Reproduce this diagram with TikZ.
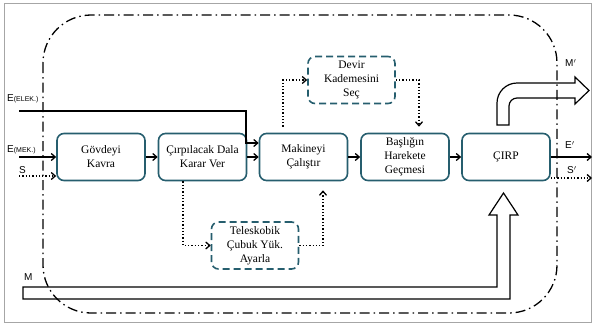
\documentclass[tikz,border=0pt]{standalone}
\usepackage{fontspec}
\setmainfont{Liberation Serif}
\newfontfamily\lblfont{Liberation Sans}
\usepackage{xcolor}
\usetikzlibrary{arrows.meta,positioning,calc}
\definecolor{boxteal}{RGB}{38,94,110}

\begin{document}
\begin{tikzpicture}[x=1pt, y=-1pt,
    func/.style={draw=boxteal, line width=1.6pt, rounded corners=7pt, minimum width=88pt, minimum height=47pt, align=center, font=\fontsize{11.5}{14}\selectfont},
    opt/.style={func, dashed, dash pattern=on 7pt off 4pt, minimum width=87pt},
    arr/.style={-{Straight Barb[length=4pt,width=7pt]}, line width=1.3pt},
    dotarr/.style={arr, dotted},
    flow/.style={line width=1.2pt, line join=miter},
    lbl/.style={font=\lblfont\fontsize{10}{12}\selectfont, anchor=west, inner sep=0pt},
]
\useasboundingbox (0,0) rectangle (594,325);

% cerceve ve sistem siniri
\draw[gray!70, line width=0.8pt] (4,3) rectangle (591,322);
\draw[line width=1.3pt, rounded corners=48pt, dash pattern=on 10pt off 4pt on 1.5pt off 4pt]
    (43,15) rectangle (557,313);

% ana fonksiyonlar
\node[func] (govde)   at (101,157)   {Gövdeyi\\Kavra};
\node[func] (cirpdal) at (202.5,157) {Çırpılacak Dala\\Karar Ver};
\node[func] (makine)  at (303.5,157) {Makineyi\\Çalıştır};
\node[func] (baslik)  at (405,157)   {Başlığın\\Harekete\\Geçmesi};
\node[func] (cirp)    at (506,157)   {ÇIRP};

% yardimci fonksiyonlar
\node[opt] (devir) at (351.5,80)  {Devir\\Kademesini\\Seç};
\node[opt] (tele)  at (255,245.5) {Teleskobik\\Çubuk Yük.\\Ayarla};

% girisler ve cikislar
\coordinate (elek_in) at (19,111);
\coordinate (mek_in)  at (19,157);
\coordinate (s_in)    at (19,176);
\coordinate (e_out)   at (592,157);
\coordinate (s_out)   at (592,178);
\node[lbl] (elek_lbl) at (7,99)   {E{\fontsize{7}{8}\selectfont(ELEK.)}};
\node[lbl] (mek_lbl)  at (7,150)  {E{\fontsize{7}{8}\selectfont(MEK.)}};
\node[lbl] (s_lbl)    at (19,170) {S};
\node[lbl] (m_lbl)    at (24,277) {M};
\node[lbl] (mo_lbl)   at (565,63) {M$'$};
\node[lbl] (eo_lbl)   at (565,145) {E$'$};
\node[lbl] (so_lbl)   at (567,170) {S$'$};

% oklar
\draw[arr] (mek_in) -- (govde.west);
\draw[dotarr] (s_in) -- (s_in -| govde.west);
\draw[arr] (elek_in) -- (246,111) |- ($(makine.west)+(0,-14)$);
\draw[arr] (govde) -- (cirpdal);
\draw[arr] (cirpdal) -- (makine);
\draw[arr] (makine) -- (baslik);
\draw[arr] (baslik) -- (cirp);
\draw[arr] (cirp.east) -- (e_out);
\draw[dotarr] ($(cirp.east)+(0,21)$) -- (s_out);

\draw[dotarr] ($(cirpdal.south)+(-19.5,0)$) |- (tele.west);
\draw[dotarr] (tele.east) -| ($(makine.south)+(19.5,9)$);
\draw[dotarr] ($(makine.north)+(-20.5,-6)$) |- (devir.west);
\draw[dotarr] (devir.east) -| ($(baslik.north)+(14,-6)$);

% malzeme akisi
\draw[flow] (23,287) -- (497,287) -- (497,215) -- (489,215) -- (503.5,193) -- (518,215)
    -- (510,215) -- (510,299) -- (23,299) -- cycle;
\draw[flow] (497,125) -- (497,103) .. controls (497,92) and (506,83) .. (517,83) -- (575,83)
    -- (575,77) -- (589,90.5) -- (575,104) -- (575,98) -- (517,98)
    .. controls (512.6,98) and (509,101.6) .. (509,106) -- (509,125) -- cycle;

\end{tikzpicture}
\end{document}
